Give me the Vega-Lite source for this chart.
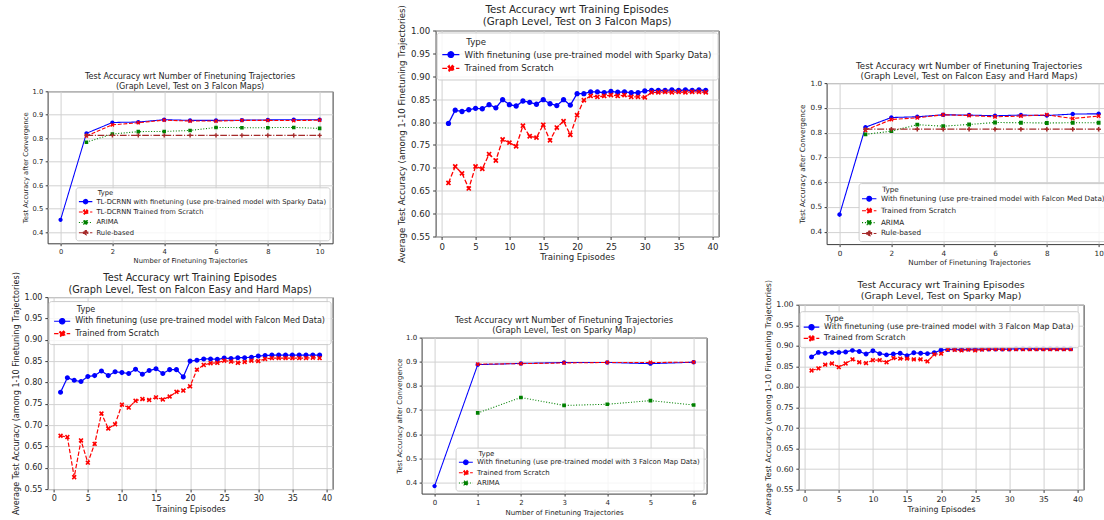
{
"$schema": "https://vega.github.io/schema/vega-lite/v6.json",
"background": "white",
"padding": {"left": 11.6, "top": 3.5, "right": 0, "bottom": 0},
"config": {
 "font": "DejaVu Sans",
 "view": {"stroke": "#3a3a3a", "strokeWidth": 1},
 "axis": {"domain": false, "grid": true, "gridColor": "#d2d2d2", "gridWidth": 1, "tickColor": "#3a3a3a", "tickWidth": 1, "labelColor": "#262626", "titleColor": "#262626", "titleFontWeight": "normal", "labelOverlap": false, "labelFlush": false, "titleLimit": 1000},
 "title": {"fontWeight": "normal", "color": "#262626", "anchor": "middle"},
 "legend": {"titleFontWeight": "normal", "labelColor": "#262626", "titleColor": "#262626", "fillColor": "rgba(255,255,255,0.8)", "strokeColor": "#cccccc", "cornerRadius": 2.5, "labelLimit": 400, "symbolOpacity": 1}
},
"datasets": {
 "p1": [
  {"x":0,"y":0.452,"s":"A"},{"x":1,"y":0.821,"s":"A"},{"x":2,"y":0.867,"s":"A"},{"x":3,"y":0.869,"s":"A"},{"x":4,"y":0.879,"s":"A"},{"x":5,"y":0.876,"s":"A"},{"x":6,"y":0.876,"s":"A"},{"x":7,"y":0.877,"s":"A"},{"x":8,"y":0.878,"s":"A"},{"x":9,"y":0.879,"s":"A"},{"x":10,"y":0.879,"s":"A"},
  {"x":1,"y":0.810,"s":"B"},{"x":2,"y":0.857,"s":"B"},{"x":3,"y":0.866,"s":"B"},{"x":4,"y":0.877,"s":"B"},{"x":5,"y":0.873,"s":"B"},{"x":6,"y":0.873,"s":"B"},{"x":7,"y":0.876,"s":"B"},{"x":8,"y":0.876,"s":"B"},{"x":9,"y":0.875,"s":"B"},{"x":10,"y":0.877,"s":"B"},
  {"x":1,"y":0.783,"s":"C"},{"x":2,"y":0.818,"s":"C"},{"x":3,"y":0.828,"s":"C"},{"x":4,"y":0.829,"s":"C"},{"x":5,"y":0.833,"s":"C"},{"x":6,"y":0.846,"s":"C"},{"x":7,"y":0.845,"s":"C"},{"x":8,"y":0.845,"s":"C"},{"x":9,"y":0.846,"s":"C"},{"x":10,"y":0.842,"s":"C"},
  {"x":1,"y":0.812,"s":"D"},{"x":2,"y":0.812,"s":"D"},{"x":3,"y":0.812,"s":"D"},{"x":4,"y":0.812,"s":"D"},{"x":5,"y":0.812,"s":"D"},{"x":6,"y":0.812,"s":"D"},{"x":7,"y":0.812,"s":"D"},{"x":8,"y":0.812,"s":"D"},{"x":9,"y":0.812,"s":"D"},{"x":10,"y":0.812,"s":"D"}
 ],
 "p2": [
  {"x":1,"y":0.797,"s":"A"},{"x":2,"y":0.826,"s":"A"},{"x":3,"y":0.823,"s":"A"},{"x":4,"y":0.827,"s":"A"},{"x":5,"y":0.830,"s":"A"},{"x":6,"y":0.829,"s":"A"},{"x":7,"y":0.838,"s":"A"},{"x":8,"y":0.831,"s":"A"},{"x":9,"y":0.849,"s":"A"},{"x":10,"y":0.838,"s":"A"},
  {"x":11,"y":0.835,"s":"A"},{"x":12,"y":0.846,"s":"A"},{"x":13,"y":0.843,"s":"A"},{"x":14,"y":0.839,"s":"A"},{"x":15,"y":0.849,"s":"A"},{"x":16,"y":0.840,"s":"A"},{"x":17,"y":0.836,"s":"A"},{"x":18,"y":0.849,"s":"A"},{"x":19,"y":0.837,"s":"A"},{"x":20,"y":0.862,"s":"A"},
  {"x":21,"y":0.862,"s":"A"},{"x":22,"y":0.866,"s":"A"},{"x":23,"y":0.866,"s":"A"},{"x":24,"y":0.864,"s":"A"},{"x":25,"y":0.867,"s":"A"},{"x":26,"y":0.865,"s":"A"},{"x":27,"y":0.866,"s":"A"},{"x":28,"y":0.864,"s":"A"},{"x":29,"y":0.864,"s":"A"},{"x":30,"y":0.868,"s":"A"},
  {"x":31,"y":0.869,"s":"A"},{"x":32,"y":0.869,"s":"A"},{"x":33,"y":0.869,"s":"A"},{"x":34,"y":0.870,"s":"A"},{"x":35,"y":0.869,"s":"A"},{"x":36,"y":0.870,"s":"A"},{"x":37,"y":0.869,"s":"A"},{"x":38,"y":0.870,"s":"A"},{"x":39,"y":0.869,"s":"A"},
  {"x":1,"y":0.667,"s":"B"},{"x":2,"y":0.703,"s":"B"},{"x":3,"y":0.688,"s":"B"},{"x":4,"y":0.655,"s":"B"},{"x":5,"y":0.703,"s":"B"},{"x":6,"y":0.698,"s":"B"},{"x":7,"y":0.730,"s":"B"},{"x":8,"y":0.716,"s":"B"},{"x":9,"y":0.762,"s":"B"},{"x":10,"y":0.755,"s":"B"},
  {"x":11,"y":0.747,"s":"B"},{"x":12,"y":0.792,"s":"B"},{"x":13,"y":0.769,"s":"B"},{"x":14,"y":0.766,"s":"B"},{"x":15,"y":0.794,"s":"B"},{"x":16,"y":0.760,"s":"B"},{"x":17,"y":0.788,"s":"B"},{"x":18,"y":0.802,"s":"B"},{"x":19,"y":0.772,"s":"B"},{"x":20,"y":0.815,"s":"B"},
  {"x":21,"y":0.848,"s":"B"},{"x":22,"y":0.857,"s":"B"},{"x":23,"y":0.855,"s":"B"},{"x":24,"y":0.857,"s":"B"},{"x":25,"y":0.859,"s":"B"},{"x":26,"y":0.857,"s":"B"},{"x":27,"y":0.859,"s":"B"},{"x":28,"y":0.855,"s":"B"},{"x":29,"y":0.855,"s":"B"},{"x":30,"y":0.854,"s":"B"},
  {"x":31,"y":0.865,"s":"B"},{"x":32,"y":0.865,"s":"B"},{"x":33,"y":0.866,"s":"B"},{"x":34,"y":0.865,"s":"B"},{"x":35,"y":0.866,"s":"B"},{"x":36,"y":0.865,"s":"B"},{"x":37,"y":0.866,"s":"B"},{"x":38,"y":0.866,"s":"B"},{"x":39,"y":0.865,"s":"B"}
 ],
 "p3": [
  {"x":0,"y":0.469,"s":"A"},{"x":1,"y":0.822,"s":"A"},{"x":2,"y":0.861,"s":"A"},{"x":3,"y":0.864,"s":"A"},{"x":4,"y":0.872,"s":"A"},{"x":5,"y":0.871,"s":"A"},{"x":6,"y":0.868,"s":"A"},{"x":7,"y":0.871,"s":"A"},{"x":8,"y":0.869,"s":"A"},{"x":9,"y":0.875,"s":"A"},{"x":10,"y":0.876,"s":"A"},
  {"x":1,"y":0.810,"s":"B"},{"x":2,"y":0.853,"s":"B"},{"x":3,"y":0.860,"s":"B"},{"x":4,"y":0.872,"s":"B"},{"x":5,"y":0.869,"s":"B"},{"x":6,"y":0.864,"s":"B"},{"x":7,"y":0.867,"s":"B"},{"x":8,"y":0.872,"s":"B"},{"x":9,"y":0.857,"s":"B"},{"x":10,"y":0.867,"s":"B"},
  {"x":1,"y":0.793,"s":"C"},{"x":2,"y":0.806,"s":"C"},{"x":3,"y":0.832,"s":"C"},{"x":4,"y":0.826,"s":"C"},{"x":5,"y":0.833,"s":"C"},{"x":6,"y":0.841,"s":"C"},{"x":7,"y":0.840,"s":"C"},{"x":8,"y":0.839,"s":"C"},{"x":9,"y":0.840,"s":"C"},{"x":10,"y":0.840,"s":"C"},
  {"x":1,"y":0.814,"s":"D"},{"x":2,"y":0.814,"s":"D"},{"x":3,"y":0.814,"s":"D"},{"x":4,"y":0.814,"s":"D"},{"x":5,"y":0.814,"s":"D"},{"x":6,"y":0.814,"s":"D"},{"x":7,"y":0.814,"s":"D"},{"x":8,"y":0.814,"s":"D"},{"x":9,"y":0.814,"s":"D"},{"x":10,"y":0.814,"s":"D"}
 ],
 "p4": [
  {"x":1,"y":0.777,"s":"A"},{"x":2,"y":0.811,"s":"A"},{"x":3,"y":0.805,"s":"A"},{"x":4,"y":0.802,"s":"A"},{"x":5,"y":0.814,"s":"A"},{"x":6,"y":0.816,"s":"A"},{"x":7,"y":0.827,"s":"A"},{"x":8,"y":0.816,"s":"A"},{"x":9,"y":0.825,"s":"A"},{"x":10,"y":0.823,"s":"A"},
  {"x":11,"y":0.821,"s":"A"},{"x":12,"y":0.831,"s":"A"},{"x":13,"y":0.819,"s":"A"},{"x":14,"y":0.828,"s":"A"},{"x":15,"y":0.832,"s":"A"},{"x":16,"y":0.821,"s":"A"},{"x":17,"y":0.830,"s":"A"},{"x":18,"y":0.830,"s":"A"},{"x":19,"y":0.813,"s":"A"},{"x":20,"y":0.850,"s":"A"},
  {"x":21,"y":0.852,"s":"A"},{"x":22,"y":0.855,"s":"A"},{"x":23,"y":0.855,"s":"A"},{"x":24,"y":0.854,"s":"A"},{"x":25,"y":0.857,"s":"A"},{"x":26,"y":0.856,"s":"A"},{"x":27,"y":0.858,"s":"A"},{"x":28,"y":0.858,"s":"A"},{"x":29,"y":0.859,"s":"A"},{"x":30,"y":0.862,"s":"A"},
  {"x":31,"y":0.863,"s":"A"},{"x":32,"y":0.864,"s":"A"},{"x":33,"y":0.864,"s":"A"},{"x":34,"y":0.864,"s":"A"},{"x":35,"y":0.864,"s":"A"},{"x":36,"y":0.864,"s":"A"},{"x":37,"y":0.864,"s":"A"},{"x":38,"y":0.864,"s":"A"},{"x":39,"y":0.864,"s":"A"},
  {"x":1,"y":0.675,"s":"B"},{"x":2,"y":0.672,"s":"B"},{"x":3,"y":0.578,"s":"B"},{"x":4,"y":0.664,"s":"B"},{"x":5,"y":0.612,"s":"B"},{"x":6,"y":0.656,"s":"B"},{"x":7,"y":0.727,"s":"B"},{"x":8,"y":0.692,"s":"B"},{"x":9,"y":0.702,"s":"B"},{"x":10,"y":0.748,"s":"B"},
  {"x":11,"y":0.741,"s":"B"},{"x":12,"y":0.757,"s":"B"},{"x":13,"y":0.761,"s":"B"},{"x":14,"y":0.759,"s":"B"},{"x":15,"y":0.765,"s":"B"},{"x":16,"y":0.760,"s":"B"},{"x":17,"y":0.767,"s":"B"},{"x":18,"y":0.778,"s":"B"},{"x":19,"y":0.781,"s":"B"},{"x":20,"y":0.791,"s":"B"},
  {"x":21,"y":0.830,"s":"B"},{"x":22,"y":0.841,"s":"B"},{"x":23,"y":0.845,"s":"B"},{"x":24,"y":0.846,"s":"B"},{"x":25,"y":0.851,"s":"B"},{"x":26,"y":0.849,"s":"B"},{"x":27,"y":0.846,"s":"B"},{"x":28,"y":0.848,"s":"B"},{"x":29,"y":0.851,"s":"B"},{"x":30,"y":0.850,"s":"B"},
  {"x":31,"y":0.855,"s":"B"},{"x":32,"y":0.857,"s":"B"},{"x":33,"y":0.857,"s":"B"},{"x":34,"y":0.857,"s":"B"},{"x":35,"y":0.857,"s":"B"},{"x":36,"y":0.857,"s":"B"},{"x":37,"y":0.857,"s":"B"},{"x":38,"y":0.858,"s":"B"},{"x":39,"y":0.857,"s":"B"}
 ],
 "p5": [
  {"x":0,"y":0.385,"s":"A"},{"x":1,"y":0.888,"s":"A"},{"x":2,"y":0.893,"s":"A"},{"x":3,"y":0.897,"s":"A"},{"x":4,"y":0.897,"s":"A"},{"x":5,"y":0.892,"s":"A"},{"x":6,"y":0.898,"s":"A"},
  {"x":1,"y":0.890,"s":"B"},{"x":2,"y":0.892,"s":"B"},{"x":3,"y":0.895,"s":"B"},{"x":4,"y":0.897,"s":"B"},{"x":5,"y":0.897,"s":"B"},{"x":6,"y":0.898,"s":"B"},
  {"x":1,"y":0.688,"s":"C"},{"x":2,"y":0.752,"s":"C"},{"x":3,"y":0.719,"s":"C"},{"x":4,"y":0.724,"s":"C"},{"x":5,"y":0.739,"s":"C"},{"x":6,"y":0.721,"s":"C"}
 ],
 "p6": [
  {"x":1,"y":0.873,"s":"A"},{"x":2,"y":0.884,"s":"A"},{"x":3,"y":0.882,"s":"A"},{"x":4,"y":0.884,"s":"A"},{"x":5,"y":0.884,"s":"A"},{"x":6,"y":0.885,"s":"A"},{"x":7,"y":0.889,"s":"A"},{"x":8,"y":0.886,"s":"A"},{"x":9,"y":0.880,"s":"A"},{"x":10,"y":0.888,"s":"A"},
  {"x":11,"y":0.881,"s":"A"},{"x":12,"y":0.878,"s":"A"},{"x":13,"y":0.880,"s":"A"},{"x":14,"y":0.882,"s":"A"},{"x":15,"y":0.876,"s":"A"},{"x":16,"y":0.883,"s":"A"},{"x":17,"y":0.882,"s":"A"},{"x":18,"y":0.881,"s":"A"},{"x":19,"y":0.883,"s":"A"},{"x":20,"y":0.890,"s":"A"},
  {"x":21,"y":0.891,"s":"A"},{"x":22,"y":0.892,"s":"A"},{"x":23,"y":0.891,"s":"A"},{"x":24,"y":0.892,"s":"A"},{"x":25,"y":0.892,"s":"A"},{"x":26,"y":0.892,"s":"A"},{"x":27,"y":0.892,"s":"A"},{"x":28,"y":0.892,"s":"A"},{"x":29,"y":0.892,"s":"A"},{"x":30,"y":0.892,"s":"A"},
  {"x":31,"y":0.893,"s":"A"},{"x":32,"y":0.893,"s":"A"},{"x":33,"y":0.893,"s":"A"},{"x":34,"y":0.893,"s":"A"},{"x":35,"y":0.893,"s":"A"},{"x":36,"y":0.893,"s":"A"},{"x":37,"y":0.893,"s":"A"},{"x":38,"y":0.893,"s":"A"},{"x":39,"y":0.893,"s":"A"},
  {"x":1,"y":0.840,"s":"B"},{"x":2,"y":0.845,"s":"B"},{"x":3,"y":0.854,"s":"B"},{"x":4,"y":0.857,"s":"B"},{"x":5,"y":0.848,"s":"B"},{"x":6,"y":0.857,"s":"B"},{"x":7,"y":0.867,"s":"B"},{"x":8,"y":0.860,"s":"B"},{"x":9,"y":0.858,"s":"B"},{"x":10,"y":0.865,"s":"B"},
  {"x":11,"y":0.865,"s":"B"},{"x":12,"y":0.860,"s":"B"},{"x":13,"y":0.870,"s":"B"},{"x":14,"y":0.869,"s":"B"},{"x":15,"y":0.869,"s":"B"},{"x":16,"y":0.867,"s":"B"},{"x":17,"y":0.867,"s":"B"},{"x":18,"y":0.862,"s":"B"},{"x":19,"y":0.879,"s":"B"},{"x":20,"y":0.881,"s":"B"},
  {"x":21,"y":0.891,"s":"B"},{"x":22,"y":0.890,"s":"B"},{"x":23,"y":0.889,"s":"B"},{"x":24,"y":0.891,"s":"B"},{"x":25,"y":0.889,"s":"B"},{"x":26,"y":0.891,"s":"B"},{"x":27,"y":0.892,"s":"B"},{"x":28,"y":0.892,"s":"B"},{"x":29,"y":0.892,"s":"B"},{"x":30,"y":0.892,"s":"B"},
  {"x":31,"y":0.892,"s":"B"},{"x":32,"y":0.892,"s":"B"},{"x":33,"y":0.892,"s":"B"},{"x":34,"y":0.892,"s":"B"},{"x":35,"y":0.892,"s":"B"},{"x":36,"y":0.892,"s":"B"},{"x":37,"y":0.892,"s":"B"},{"x":38,"y":0.892,"s":"B"},{"x":39,"y":0.892,"s":"B"}
 ]
},
"spacing": 39,
"resolve": {"scale": {"color": "independent", "shape": "independent", "strokeDash": "independent"}},
"hconcat": [
 {
  "spacing": 4.8,
  "resolve": {"scale": {"color": "independent", "shape": "independent", "strokeDash": "independent"}},
  "vconcat": [
   {"width": 10, "height": 36.1, "mark": "point", "data": {"values": []}, "view": {"stroke": null}},
   {
    "width": 285, "height": 152,
    "title": {"text": ["Test Accuracy wrt Number of Finetuning Trajectories", "(Graph Level, Test on 3 Falcon Maps)"], "fontSize": 8.1, "lineHeight": 9.7, "offset": 2.3, "dy": 4.7},
    "data": {"name": "p1"},
    "encoding": {
     "x": {"field": "x", "type": "quantitative", "scale": {"domain": [-0.5, 10.5], "nice": false, "zero": false}, "axis": {"title": "Number of Finetuning Trajectories", "values": [0,2,4,6,8,10], "format": "d", "labelFontSize": 6.75, "titleFontSize": 6.75, "tickSize": 2.4, "labelPadding": 2.4, "titlePadding": 2.45, "minExtent": 11.5, "maxExtent": 11.5}},
     "y": {"field": "y", "type": "quantitative", "scale": {"domain": [0.352, 1.0], "nice": false, "zero": false}, "axis": {"title": "Test Accuracy after Convergence", "values": [0.4,0.5,0.6,0.7,0.8,0.9,1.0], "format": ".1f", "labelFontSize": 6.75, "titleFontSize": 6.75, "tickSize": 2.4, "labelPadding": 2.4, "titlePadding": 2.7, "minExtent": 16, "maxExtent": 16}},
     "color": {"field": "s", "type": "nominal", "scale": {"domain": ["A","B","C","D"], "range": ["#0000ff","#ff0000","#008000","#a52a2a"]},
      "legend": {"title": "\u200b\u00a0\u00a0\u00a0\u00a0\u00a0\u00a0\u00a0\u00a0\u00a0Type", "orient": "bottom-right", "offset": 3.5, "labelExpr": "datum.value=='A'?'TL-DCRNN with finetuning (use pre-trained model with Sparky Data)':datum.value=='B'?'TL-DCRNN Trained from Scratch':datum.value=='C'?'ARIMA':'Rule-based'", "labelFontSize": 6.75, "titleFontSize": 6.75, "symbolSize": 22.2, "symbolStrokeWidth": 1.05, "symbolOffset": 3.84, "labelOffset": 7.5, "rowPadding": 1.4, "titlePadding": 1.4, "padding": 2.8,
       "symbolType": {"expr": "['M-2.85,0H2.85M0.95,0A0.95,0.95,0,1,1,-0.95,0A0.95,0.95,0,1,1,0.95,0Z','M-2.85,0H2.85M0.93,-0.51L0.42,0L0.93,0.51L0.51,0.93L0,0.42L-0.51,0.93L-0.93,0.51L-0.42,0L-0.93,-0.51L-0.51,-0.93L0,-0.42L0.51,-0.93Z','M-2.85,0H2.85M-0.8,-0.8H0.8V0.8H-0.8Z','M-2.85,0H2.85M-0.32,-0.95H0.32V-0.32H0.95V0.32H0.32V0.95H-0.32V0.32H-0.95V-0.32H-0.32Z'][datum.index]"},
       "symbolStrokeColor": {"expr": "['#0000ff','#ff0000','#008000','#a52a2a'][datum.index]"},
       "symbolFillColor": {"expr": "['#0000ff','#ff0000','#008000','#a52a2a'][datum.index]"},
       "symbolDash": {"expr": "[[1,0],[3.9,1.7],[1.05,1.7],[6.7,1.7,1.05,1.7]][datum.index]"}}}
    },
    "layer": [
     {"mark": {"type": "line", "strokeWidth": 1.05}, "encoding": {"strokeDash": {"field": "s", "type": "nominal", "scale": {"domain": ["A","B","C","D"], "range": [[1,0],[3.9,1.7],[1.05,1.7],[6.7,1.7,1.05,1.7]]}, "legend": null}}},
     {"mark": {"type": "point", "filled": true, "opacity": 1, "size": 19.7}, "encoding": {"shape": {"field": "s", "type": "nominal", "scale": {"domain": ["A","B","C","D"], "range": ["M-2.85,0H2.85M0.95,0A0.95,0.95,0,1,1,-0.95,0A0.95,0.95,0,1,1,0.95,0Z","M-2.85,0H2.85M0.93,-0.51L0.42,0L0.93,0.51L0.51,0.93L0,0.42L-0.51,0.93L-0.93,0.51L-0.42,0L-0.93,-0.51L-0.51,-0.93L0,-0.42L0.51,-0.93Z","M-2.85,0H2.85M-0.8,-0.8H0.8V0.8H-0.8Z","M-2.85,0H2.85M-0.32,-0.95H0.32V-0.32H0.95V0.32H0.32V0.95H-0.32V0.32H-0.95V-0.32H-0.32Z"]}, "legend": null}}}
    ]
   },
   {
    "width": 285, "height": 192,
    "title": {"text": ["Test Accuracy wrt Training Episodes", "(Graph Level, Test on Falcon Easy and Hard Maps)"], "fontSize": 9.75, "lineHeight": 11.7, "offset": 2.1, "dy": 25},
    "data": {"name": "p4"},
    "encoding": {
     "x": {"field": "x", "type": "quantitative", "scale": {"domain": [-0.9, 40.9], "nice": false, "zero": false}, "axis": {"title": "Training Episodes", "values": [0,5,10,15,20,25,30,35,40], "format": "d", "labelFontSize": 8.1, "titleFontSize": 8.1, "tickSize": 2.8, "labelPadding": 2.8, "titlePadding": 2.5, "minExtent": 13.8, "maxExtent": 13.8}},
     "y": {"field": "y", "type": "quantitative", "scale": {"domain": [0.55, 1.0], "nice": false, "zero": false}, "axis": {"title": "Average Test Accuracy (among 1-10 Finetuning Trajectories)", "values": [0.55,0.6,0.65,0.7,0.75,0.8,0.85,0.9,0.95,1.0], "format": ".2f", "labelFontSize": 8.1, "titleFontSize": 8.1, "tickSize": 2.8, "labelPadding": 2.8, "titlePadding": 3.2, "minExtent": 24.1, "maxExtent": 24.1}},
     "color": {"field": "s", "type": "nominal", "scale": {"domain": ["A","B"], "range": ["#0000ff","#ff0000"]},
      "legend": {"title": "\u200b\u00a0\u00a0\u00a0\u00a0\u00a0\u00a0\u00a0\u00a0\u00a0Type", "orient": "none", "legendX": 1, "legendY": 4, "labelExpr": "datum.value=='A'?'With finetuning (use pre-trained model with Falcon Med Data)':'Trained from Scratch'", "labelFontSize": 8.1, "titleFontSize": 8.1, "symbolSize": 32, "symbolStrokeWidth": 1.2, "symbolOffset": 4.5, "labelOffset": 8.95, "rowPadding": 1.4, "titlePadding": 3.0, "padding": 5.0,
       "symbolType": {"expr": "['M-2.85,0H2.85M0.95,0A0.95,0.95,0,1,1,-0.95,0A0.95,0.95,0,1,1,0.95,0Z','M-2.85,0H2.85M0.93,-0.51L0.42,0L0.93,0.51L0.51,0.93L0,0.42L-0.51,0.93L-0.93,0.51L-0.42,0L-0.93,-0.51L-0.51,-0.93L0,-0.42L0.51,-0.93Z'][datum.index]"},
       "symbolStrokeColor": {"expr": "['#0000ff','#ff0000'][datum.index]"},
       "symbolFillColor": {"expr": "['#0000ff','#ff0000'][datum.index]"},
       "symbolDash": {"expr": "[[1,0],[4.4,1.9]][datum.index]"}}}
    },
    "layer": [
     {"mark": {"type": "line", "strokeWidth": 1.2}, "encoding": {"strokeDash": {"field": "s", "type": "nominal", "scale": {"domain": ["A","B"], "range": [[1,0],[4.4,1.9]]}, "legend": null}}},
     {"mark": {"type": "point", "filled": true, "opacity": 1, "size": 28.4}, "encoding": {"shape": {"field": "s", "type": "nominal", "scale": {"domain": ["A","B"], "range": ["M-2.85,0H2.85M0.95,0A0.95,0.95,0,1,1,-0.95,0A0.95,0.95,0,1,1,0.95,0Z","M-2.85,0H2.85M0.93,-0.51L0.42,0L0.93,0.51L0.51,0.93L0,0.42L-0.51,0.93L-0.93,0.51L-0.42,0L-0.93,-0.51L-0.51,-0.93L0,-0.42L0.51,-0.93Z"]}, "legend": null}}}
    ]
   }
  ]
 },
 {
  "spacing": 51.1,
  "resolve": {"scale": {"color": "independent", "shape": "independent", "strokeDash": "independent"}},
  "vconcat": [
   {
    "spacing": 0,
    "resolve": {"scale": {"color": "independent", "shape": "independent", "strokeDash": "independent"}},
    "hconcat": [
     {"width": 23.7, "height": 1, "mark": "point", "data": {"values": []}, "view": {"stroke": null}},
     {
      "width": 283, "height": 206,
      "title": {"text": ["Test Accuracy wrt Training Episodes", "(Graph Level, Test on 3 Falcon Maps)"], "fontSize": 10.3, "lineHeight": 12, "offset": 5.2, "dy": 27.7},
      "data": {"name": "p2"},
      "encoding": {
       "x": {"field": "x", "type": "quantitative", "scale": {"domain": [-0.9, 40.9], "nice": false, "zero": false}, "axis": {"title": "Training Episodes", "values": [0,5,10,15,20,25,30,35,40], "format": "d", "labelFontSize": 8.6, "titleFontSize": 8.6, "tickSize": 3, "labelPadding": 3, "titlePadding": 1.8, "minExtent": 14.6, "maxExtent": 14.6}},
       "y": {"field": "y", "type": "quantitative", "scale": {"domain": [0.55, 1.0], "nice": false, "zero": false}, "axis": {"title": "Average Test Accuracy (among 1-10 Finetuning Trajectories)", "values": [0.55,0.6,0.65,0.7,0.75,0.8,0.85,0.9,0.95,1.0], "format": ".2f", "labelFontSize": 8.6, "titleFontSize": 8.6, "tickSize": 3, "labelPadding": 3, "titlePadding": 3.4, "minExtent": 25.3, "maxExtent": 25.3}},
       "color": {"field": "s", "type": "nominal", "scale": {"domain": ["A","B"], "range": ["#0000ff","#ff0000"]},
        "legend": {"title": "\u200b\u00a0\u00a0\u00a0\u00a0\u00a0\u00a0\u00a0\u00a0\u00a0Type", "orient": "none", "legendX": 1, "legendY": 2, "labelExpr": "datum.value=='A'?'With finetuning (use pre-trained model with Sparky Data)':'Trained from Scratch'", "labelFontSize": 8.6, "titleFontSize": 8.6, "symbolSize": 36, "symbolStrokeWidth": 1.3, "symbolOffset": 4.75, "labelOffset": 9.45, "rowPadding": 1.7, "titlePadding": 4.0, "padding": 5.2,
         "symbolType": {"expr": "['M-2.85,0H2.85M0.95,0A0.95,0.95,0,1,1,-0.95,0A0.95,0.95,0,1,1,0.95,0Z','M-2.85,0H2.85M0.93,-0.51L0.42,0L0.93,0.51L0.51,0.93L0,0.42L-0.51,0.93L-0.93,0.51L-0.42,0L-0.93,-0.51L-0.51,-0.93L0,-0.42L0.51,-0.93Z'][datum.index]"},
         "symbolStrokeColor": {"expr": "['#0000ff','#ff0000'][datum.index]"},
         "symbolFillColor": {"expr": "['#0000ff','#ff0000'][datum.index]"},
         "symbolDash": {"expr": "[[1,0],[4.8,2.1]][datum.index]"}}}
      },
      "layer": [
       {"mark": {"type": "line", "strokeWidth": 1.3}, "encoding": {"strokeDash": {"field": "s", "type": "nominal", "scale": {"domain": ["A","B"], "range": [[1,0],[4.8,2.1]]}, "legend": null}}},
       {"mark": {"type": "point", "filled": true, "opacity": 1, "size": 32}, "encoding": {"shape": {"field": "s", "type": "nominal", "scale": {"domain": ["A","B"], "range": ["M-2.85,0H2.85M0.95,0A0.95,0.95,0,1,1,-0.95,0A0.95,0.95,0,1,1,0.95,0Z","M-2.85,0H2.85M0.93,-0.51L0.42,0L0.93,0.51L0.51,0.93L0,0.42L-0.51,0.93L-0.93,0.51L-0.42,0L-0.93,-0.51L-0.51,-0.93L0,-0.42L0.51,-0.93Z"]}, "legend": null}}}
      ]
     }
    ]
   },
   {
    "spacing": 0,
    "resolve": {"scale": {"color": "independent", "shape": "independent", "strokeDash": "independent"}},
    "hconcat": [
     {"width": 21.2, "height": 1, "mark": "point", "data": {"values": []}, "view": {"stroke": null}},
     {
      "width": 285, "height": 156,
      "title": {"text": ["Test Accuracy wrt Number of Finetuning Trajectories", "(Graph Level, Test on Sparky Map)"], "fontSize": 8.4, "lineHeight": 10, "offset": 3.5, "dy": 4.3},
      "data": {"name": "p5"},
      "encoding": {
       "x": {"field": "x", "type": "quantitative", "scale": {"domain": [-0.3, 6.3], "nice": false, "zero": false}, "axis": {"title": "Number of Finetuning Trajectories", "values": [0,1,2,3,4,5,6], "format": "d", "labelFontSize": 7, "titleFontSize": 7, "tickSize": 2.45, "labelPadding": 2.45, "titlePadding": 2.6, "minExtent": 11.9, "maxExtent": 11.9}},
       "y": {"field": "y", "type": "quantitative", "scale": {"domain": [0.354, 1.0], "nice": false, "zero": false}, "axis": {"title": "Test Accuracy after Convergence", "values": [0.4,0.5,0.6,0.7,0.8,0.9,1.0], "format": ".1f", "labelFontSize": 7, "titleFontSize": 7, "tickSize": 2.45, "labelPadding": 2.45, "titlePadding": 2.8, "minExtent": 16, "maxExtent": 16}},
       "color": {"field": "s", "type": "nominal", "scale": {"domain": ["A","B","C"], "range": ["#0000ff","#ff0000","#008000"]},
        "legend": {"title": "\u200b\u00a0\u00a0\u00a0\u00a0\u00a0\u00a0\u00a0\u00a0\u00a0Type", "orient": "bottom-right", "offset": 3.5, "labelExpr": "datum.value=='A'?'With finetuning (use pre-trained model with 3 Falcon Map Data)':datum.value=='B'?'Trained from Scratch':'ARIMA'", "labelFontSize": 7, "titleFontSize": 7, "symbolSize": 23.8, "symbolStrokeWidth": 1.05, "symbolOffset": 3.95, "labelOffset": 7.75, "rowPadding": 1.4, "titlePadding": 1.4, "padding": 2.8,
         "symbolType": {"expr": "['M-2.85,0H2.85M0.95,0A0.95,0.95,0,1,1,-0.95,0A0.95,0.95,0,1,1,0.95,0Z','M-2.85,0H2.85M0.93,-0.51L0.42,0L0.93,0.51L0.51,0.93L0,0.42L-0.51,0.93L-0.93,0.51L-0.42,0L-0.93,-0.51L-0.51,-0.93L0,-0.42L0.51,-0.93Z','M-2.85,0H2.85M-0.8,-0.8H0.8V0.8H-0.8Z'][datum.index]"},
         "symbolStrokeColor": {"expr": "['#0000ff','#ff0000','#008000'][datum.index]"},
         "symbolFillColor": {"expr": "['#0000ff','#ff0000','#008000'][datum.index]"},
         "symbolDash": {"expr": "[[1,0],[3.9,1.7],[1.05,1.7]][datum.index]"}}}
      },
      "layer": [
       {"mark": {"type": "line", "strokeWidth": 1.05}, "encoding": {"strokeDash": {"field": "s", "type": "nominal", "scale": {"domain": ["A","B","C"], "range": [[1,0],[3.9,1.7],[1.05,1.7]]}, "legend": null}}},
       {"mark": {"type": "point", "filled": true, "opacity": 1, "size": 21.2}, "encoding": {"shape": {"field": "s", "type": "nominal", "scale": {"domain": ["A","B","C"], "range": ["M-2.85,0H2.85M0.95,0A0.95,0.95,0,1,1,-0.95,0A0.95,0.95,0,1,1,0.95,0Z","M-2.85,0H2.85M0.93,-0.51L0.42,0L0.93,0.51L0.51,0.93L0,0.42L-0.51,0.93L-0.93,0.51L-0.42,0L-0.93,-0.51L-0.51,-0.93L0,-0.42L0.51,-0.93Z","M-2.85,0H2.85M-0.8,-0.8H0.8V0.8H-0.8Z"]}, "legend": null}}}
      ]
     }
    ]
   }
  ]
 },
 {
  "spacing": 11.6,
  "resolve": {"scale": {"color": "independent", "shape": "independent", "strokeDash": "independent"}},
  "vconcat": [
   {"width": 10, "height": 18.2, "mark": "point", "data": {"values": []}, "view": {"stroke": null}},
   {
    "spacing": 0,
    "resolve": {"scale": {"color": "independent", "shape": "independent", "strokeDash": "independent"}},
    "hconcat": [
     {"width": 38.05, "height": 1, "mark": "point", "data": {"values": []}, "view": {"stroke": null}},
     {
      "width": 285, "height": 161,
      "title": {"text": ["Test Accuracy wrt Number of Finetuning Trajectories", "(Graph Level, Test on Falcon Easy and Hard Maps)"], "fontSize": 8.7, "lineHeight": 10.4, "offset": 3.4, "dy": 5.3},
      "data": {"name": "p3"},
      "encoding": {
       "x": {"field": "x", "type": "quantitative", "scale": {"domain": [-0.5, 10.5], "nice": false, "zero": false}, "axis": {"title": "Number of Finetuning Trajectories", "values": [0,2,4,6,8,10], "format": "d", "labelFontSize": 7.25, "titleFontSize": 7.25, "tickSize": 2.5, "labelPadding": 2.5, "titlePadding": 2.35, "minExtent": 12.3, "maxExtent": 12.3}},
       "y": {"field": "y", "type": "quantitative", "scale": {"domain": [0.35, 1.0], "nice": false, "zero": false}, "axis": {"title": "Test Accuracy after Convergence", "values": [0.4,0.5,0.6,0.7,0.8,0.9,1.0], "format": ".1f", "labelFontSize": 7.25, "titleFontSize": 7.25, "tickSize": 2.5, "labelPadding": 2.5, "titlePadding": 2.9, "minExtent": 16.8, "maxExtent": 16.8}},
       "color": {"field": "s", "type": "nominal", "scale": {"domain": ["A","B","C","D"], "range": ["#0000ff","#ff0000","#008000","#a52a2a"]},
        "legend": {"title": "\u200b\u00a0\u00a0\u00a0\u00a0\u00a0\u00a0\u00a0\u00a0\u00a0Type", "orient": "bottom-right", "offset": 3, "labelExpr": "datum.value=='A'?'With finetuning (use pre-trained model with Falcon Med Data)':datum.value=='B'?'Trained from Scratch':datum.value=='C'?'ARIMA':'Rule-based'", "labelFontSize": 7.25, "titleFontSize": 7.25, "symbolSize": 25.6, "symbolStrokeWidth": 1.1, "symbolOffset": 4.09, "labelOffset": 8.05, "rowPadding": 1.9, "titlePadding": 1.9, "padding": 2.9,
         "symbolType": {"expr": "['M-2.85,0H2.85M0.95,0A0.95,0.95,0,1,1,-0.95,0A0.95,0.95,0,1,1,0.95,0Z','M-2.85,0H2.85M0.93,-0.51L0.42,0L0.93,0.51L0.51,0.93L0,0.42L-0.51,0.93L-0.93,0.51L-0.42,0L-0.93,-0.51L-0.51,-0.93L0,-0.42L0.51,-0.93Z','M-2.85,0H2.85M-0.8,-0.8H0.8V0.8H-0.8Z','M-2.85,0H2.85M-0.32,-0.95H0.32V-0.32H0.95V0.32H0.32V0.95H-0.32V0.32H-0.95V-0.32H-0.32Z'][datum.index]"},
         "symbolStrokeColor": {"expr": "['#0000ff','#ff0000','#008000','#a52a2a'][datum.index]"},
         "symbolFillColor": {"expr": "['#0000ff','#ff0000','#008000','#a52a2a'][datum.index]"},
         "symbolDash": {"expr": "[[1,0],[4.1,1.8],[1.1,1.8],[7,1.8,1.1,1.8]][datum.index]"}}}
      },
      "layer": [
       {"mark": {"type": "line", "strokeWidth": 1.1}, "encoding": {"strokeDash": {"field": "s", "type": "nominal", "scale": {"domain": ["A","B","C","D"], "range": [[1,0],[4.1,1.8],[1.1,1.8],[7,1.8,1.1,1.8]]}, "legend": null}}},
       {"mark": {"type": "point", "filled": true, "opacity": 1, "size": 22.8}, "encoding": {"shape": {"field": "s", "type": "nominal", "scale": {"domain": ["A","B","C","D"], "range": ["M-2.85,0H2.85M0.95,0A0.95,0.95,0,1,1,-0.95,0A0.95,0.95,0,1,1,0.95,0Z","M-2.85,0H2.85M0.93,-0.51L0.42,0L0.93,0.51L0.51,0.93L0,0.42L-0.51,0.93L-0.93,0.51L-0.42,0L-0.93,-0.51L-0.51,-0.93L0,-0.42L0.51,-0.93Z","M-2.85,0H2.85M-0.8,-0.8H0.8V0.8H-0.8Z","M-2.85,0H2.85M-0.32,-0.95H0.32V-0.32H0.95V0.32H0.32V0.95H-0.32V0.32H-0.95V-0.32H-0.32Z"]}, "legend": null}}}
      ]
     }
    ]
   },
   {
    "spacing": 0,
    "resolve": {"scale": {"color": "independent", "shape": "independent", "strokeDash": "independent"}},
    "hconcat": [
     {"width": 4.05, "height": 1, "mark": "point", "data": {"values": []}, "view": {"stroke": null}},
     {
      "width": 285, "height": 185,
      "title": {"text": ["Test Accuracy wrt Training Episodes", "(Graph Level, Test on Sparky Map)"], "fontSize": 9.4, "lineHeight": 11.2, "offset": 3, "dy": 25.3},
      "data": {"name": "p6"},
      "encoding": {
       "x": {"field": "x", "type": "quantitative", "scale": {"domain": [-0.9, 40.9], "nice": false, "zero": false}, "axis": {"title": "Training Episodes", "values": [0,5,10,15,20,25,30,35,40], "format": "d", "labelFontSize": 7.85, "titleFontSize": 7.85, "tickSize": 2.75, "labelPadding": 2.75, "titlePadding": 2.7, "minExtent": 13.3, "maxExtent": 13.3}},
       "y": {"field": "y", "type": "quantitative", "scale": {"domain": [0.55, 1.0], "nice": false, "zero": false}, "axis": {"title": "Average Test Accuracy (among 1-10 Finetuning Trajectories)", "values": [0.55,0.6,0.65,0.7,0.75,0.8,0.85,0.9,0.95,1.0], "format": ".2f", "labelFontSize": 7.85, "titleFontSize": 7.85, "tickSize": 2.75, "labelPadding": 2.75, "titlePadding": 3.1, "minExtent": 23, "maxExtent": 23}},
       "color": {"field": "s", "type": "nominal", "scale": {"domain": ["A","B"], "range": ["#0000ff","#ff0000"]},
        "legend": {"title": "\u200b\u00a0\u00a0\u00a0\u00a0\u00a0\u00a0\u00a0\u00a0\u00a0Type", "orient": "none", "legendX": 1, "legendY": 6.5, "labelExpr": "datum.value=='A'?'With finetuning (use pre-trained model with 3 Falcon Map Data)':'Trained from Scratch'", "labelFontSize": 7.85, "titleFontSize": 7.85, "symbolSize": 30, "symbolStrokeWidth": 1.2, "symbolOffset": 4.38, "labelOffset": 8.65, "rowPadding": 0.2, "titlePadding": 0.6, "padding": 3.6,
         "symbolType": {"expr": "['M-2.85,0H2.85M0.95,0A0.95,0.95,0,1,1,-0.95,0A0.95,0.95,0,1,1,0.95,0Z','M-2.85,0H2.85M0.93,-0.51L0.42,0L0.93,0.51L0.51,0.93L0,0.42L-0.51,0.93L-0.93,0.51L-0.42,0L-0.93,-0.51L-0.51,-0.93L0,-0.42L0.51,-0.93Z'][datum.index]"},
         "symbolStrokeColor": {"expr": "['#0000ff','#ff0000'][datum.index]"},
         "symbolFillColor": {"expr": "['#0000ff','#ff0000'][datum.index]"},
         "symbolDash": {"expr": "[[1,0],[4.4,1.9]][datum.index]"}}}
      },
      "layer": [
       {"mark": {"type": "line", "strokeWidth": 1.2}, "encoding": {"strokeDash": {"field": "s", "type": "nominal", "scale": {"domain": ["A","B"], "range": [[1,0],[4.4,1.9]]}, "legend": null}}},
       {"mark": {"type": "point", "filled": true, "opacity": 1, "size": 26.7}, "encoding": {"shape": {"field": "s", "type": "nominal", "scale": {"domain": ["A","B"], "range": ["M-2.85,0H2.85M0.95,0A0.95,0.95,0,1,1,-0.95,0A0.95,0.95,0,1,1,0.95,0Z","M-2.85,0H2.85M0.93,-0.51L0.42,0L0.93,0.51L0.51,0.93L0,0.42L-0.51,0.93L-0.93,0.51L-0.42,0L-0.93,-0.51L-0.51,-0.93L0,-0.42L0.51,-0.93Z"]}, "legend": null}}}
      ]
     }
    ]
   }
  ]
 }
]
}
